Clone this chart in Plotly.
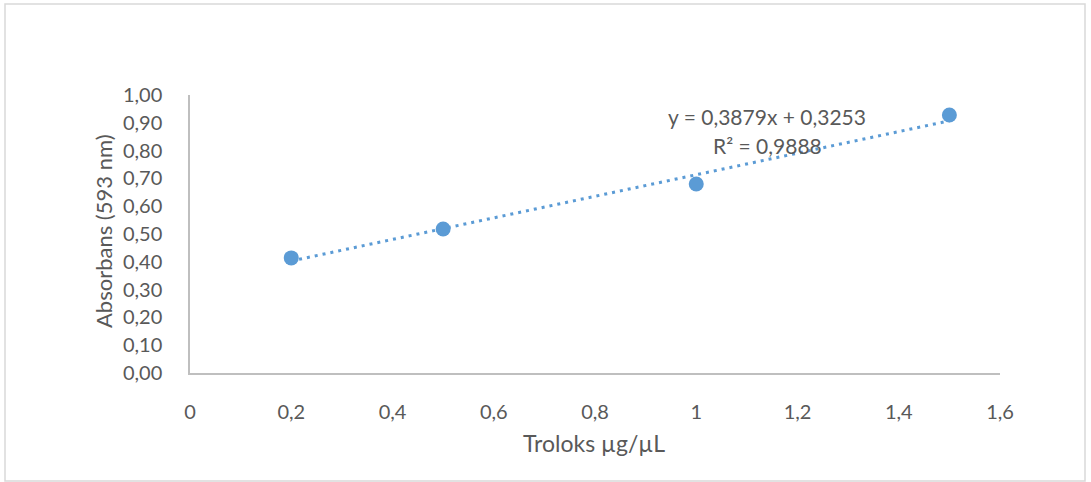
import plotly.graph_objects as go

# Data
troloks = [0.2, 0.5, 1.0, 1.5]
absorbans = [0.414, 0.518, 0.680, 0.928]
slope = 0.3879
intercept = 0.3253
r2_text = "R² = 0,9888"
eq_text = "y = 0,3879x + 0,3253"
x_tickvals = [0, 0.2, 0.4, 0.6, 0.8, 1.0, 1.2, 1.4, 1.6]
x_ticktext = ["0", "0,2", "0,4", "0,6", "0,8", "1", "1,2", "1,4", "1,6"]
y_tickvals = [0, 0.1, 0.2, 0.3, 0.4, 0.5, 0.6, 0.7, 0.8, 0.9, 1.0]

blue = "#5B9BD5"
txt = "#595959"
font = "Lato"

W, H = 1091, 482
L, R, T, B = 190, 91, 95, 109
PW, PH = W - L - R, H - T - B


def px(x):
    return (x - L) / PW


def py(y):
    return (H - B - y) / PH


trend_x = [min(troloks), max(troloks)]
trend_y = [slope * x + intercept for x in trend_x]

fig = go.Figure()
fig.add_trace(go.Scatter(x=trend_x, y=trend_y, mode="lines",
                         line=dict(color=blue, width=3, dash="3px,5px"),
                         hoverinfo="skip", showlegend=False))
fig.add_trace(go.Scatter(x=troloks, y=absorbans, mode="markers",
                         marker=dict(color=blue, size=15, line=dict(width=0)),
                         showlegend=False))

fig.add_annotation(x=1.14, y=0.921, text=eq_text, showarrow=False,
                   font=dict(family=font, size=21, color=txt))
fig.add_annotation(x=1.14, y=0.820, text=r2_text, showarrow=False,
                   font=dict(family=font, size=21, color=txt))

# outer chart border
fig.add_shape(type="rect", xref="paper", yref="paper",
              x0=px(5), x1=px(1085), y0=py(481), y1=py(4),
              line=dict(color="#D9D9D9", width=1.5), layer="below")

# x-axis title
fig.add_annotation(xref="paper", yref="paper", x=px(594), y=py(443),
                   xanchor="center", yanchor="middle",
                   text="Troloks µg/µL", showarrow=False,
                   font=dict(family=font, size=23, color=txt))
# y-axis title
fig.add_annotation(xref="paper", yref="paper", x=px(103), y=py(231),
                   xanchor="center", yanchor="middle",
                   text="Absorbans (593 nm)", showarrow=False, textangle=-90,
                   font=dict(family=font, size=22, color=txt))

fig.update_layout(
    width=W, height=H,
    margin=dict(l=L, r=R, t=T, b=B),
    paper_bgcolor="white", plot_bgcolor="white",
    separators=",.",
    font=dict(family=font, color=txt),
    xaxis=dict(range=[0, 1.6], tickvals=x_tickvals, ticktext=x_ticktext,
               showgrid=False, zeroline=False, showline=True,
               linecolor="#BFBFBF", linewidth=1.5, ticks="",
               ticklabelstandoff=20,
               tickfont=dict(family=font, size=20, color=txt)),
    yaxis=dict(range=[0, 1.0], tickvals=y_tickvals, tickformat=".2f",
               showgrid=False, zeroline=False, showline=True,
               linecolor="#BFBFBF", linewidth=1.5, ticks="",
               ticklabelstandoff=22,
               tickfont=dict(family=font, size=20, color=txt)),
)

fig.write_html("out.html", config={"displayModeBar": False},
               post_script="document.body.style.margin='0px';document.body.style.padding='0px';")
